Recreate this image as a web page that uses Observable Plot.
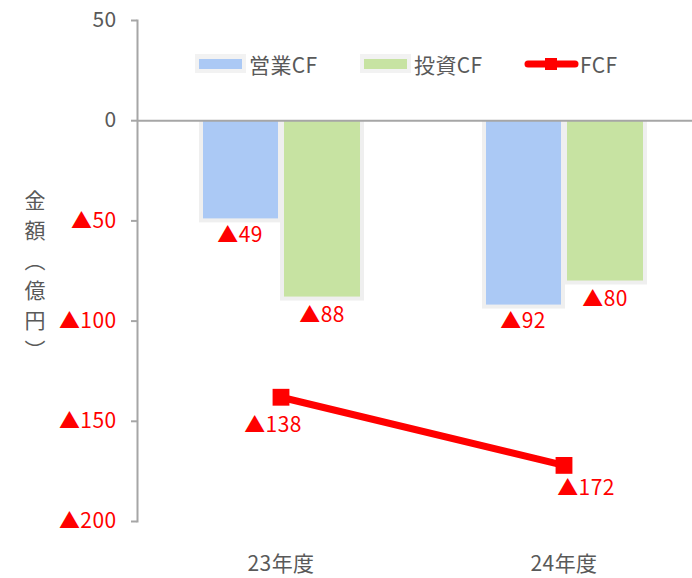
<!DOCTYPE html>
<html><head><meta charset="utf-8">
<script src="https://cdn.jsdelivr.net/npm/d3@7"></script>
<script src="https://cdn.jsdelivr.net/npm/@observablehq/plot@0.6"></script>
<style>body{margin:0;background:#fff} #chart{position:relative;width:692px;height:578px}</style>
</head><body><div id="chart"></div>
<script>
const years = ["23年度", "24年度"];
const seriesNames = ["営業CF", "投資CF", "FCF"];
const opCF = [-49, -92];
const invCF = [-88, -80];
const fcf = [-138, -172];
const yTicks = [50, 0, -50, -100, -150, -200];
const yTitle = "金額（億円）";

const blue = "#abc9f5", green = "#c7e3a2", red = "#ff0000";
const grey = "#595959", axisGrey = "#a6a6a6", shade = "#efefef";
const font = "'Noto Sans CJK JP', 'Noto Sans', sans-serif";
const fs = 21;
const fmt = v => v < 0 ? "▲" + Math.abs(v) : String(v);

const op = years.map((y, i) => ({year: y, value: opCF[i]}));
const inv = years.map((y, i) => ({year: y, value: invCF[i]}));
const line = years.map((y, i) => ({year: y, value: fcf[i]}));

const plot = Plot.plot({
  width: 692, height: 578,
  marginTop: 20, marginBottom: 57, marginLeft: 137, marginRight: 0,
  style: {fontFamily: font, fontSize: fs + "px", background: "#fff", color: grey, letterSpacing: "0.4px"},
  x: {domain: years, range: [138, 705], padding: 0, label: null},
  y: {domain: [-200, 50], label: null},
  marks: [
    Plot.barY(op, {x: "year", y: "value", fill: shade, insetLeft: 60, insetRight: 140, insetBottom: -4}),
    Plot.barY(inv, {x: "year", y: "value", fill: shade, insetLeft: 141, insetRight: 58, insetBottom: -4}),
    Plot.barY(op, {x: "year", y: "value", fill: blue, insetLeft: 64, insetRight: 144}),
    Plot.barY(inv, {x: "year", y: "value", fill: green, insetLeft: 145, insetRight: 62}),
    Plot.ruleY([0], {stroke: axisGrey, strokeWidth: 2}),
    Plot.frame({anchor: "left", stroke: axisGrey, strokeWidth: 2}),
    Plot.axisY({ticks: yTicks.filter(v => v >= 0), tickSize: 6, tickPadding: 15, stroke: axisGrey, strokeWidth: 2, fill: grey, fontSize: fs, tickFormat: fmt, label: null}),
    Plot.axisY({ticks: yTicks.filter(v => v < 0), tickSize: 6, tickPadding: 15, stroke: axisGrey, strokeWidth: 2, fill: red, fontSize: fs, tickFormat: fmt, label: null}),
    Plot.axisX({tickSize: 0, tickPadding: 35, fill: grey, fontSize: fs, label: null}),
    Plot.text(op, {x: "year", y: "value", text: d => fmt(d.value), dx: -41, dy: 16, fill: red, fontSize: fs}),
    Plot.text(inv, {x: "year", y: "value", text: d => fmt(d.value), dx: 41, dy: 18, fill: red, fontSize: fs}),
    Plot.line(line, {x: "year", y: "value", stroke: red, strokeWidth: 7}),
    Plot.dot(line, {x: "year", y: "value", symbol: "square", r: 9.5, fill: red}),
    Plot.text(line.filter((d, i) => i === 0), {x: "year", y: "value", text: d => fmt(d.value), dx: -8, dy: 28, fill: red, fontSize: fs}),
    Plot.text(line.filter((d, i) => i === 1), {x: "year", y: "value", text: d => fmt(d.value), dx: 22, dy: 23, fill: red, fontSize: fs})
  ]
});
document.getElementById("chart").appendChild(plot);

const svg = d3.select(plot);
// y-axis title, vertical
svg.append("text")
  .attr("x", 35).attr("y", 280)
  .attr("text-anchor", "middle")
  .style("writing-mode", "vertical-rl")
  .style("letter-spacing", "9px")
  .attr("fill", grey).attr("font-size", 21).attr("font-family", font)
  .text(yTitle);

// legend
const lg = svg.append("g").attr("font-family", font).attr("font-size", fs).attr("fill", grey)
  .attr("text-anchor", "start");
const swatchX = [195, 360];
[blue, green].forEach((c, i) => {
  lg.append("rect").attr("x", swatchX[i]).attr("y", 54).attr("width", 51).attr("height", 19).attr("fill", "#f2f2f2");
  lg.append("rect").attr("x", swatchX[i] + 4).attr("y", 59).attr("width", 43).attr("height", 10).attr("fill", c);
  lg.append("text").attr("x", swatchX[i] + 54).attr("y", 64).attr("dominant-baseline", "central").text(seriesNames[i]);
});
lg.append("line").attr("x1", 528).attr("x2", 575).attr("y1", 64).attr("y2", 64)
  .attr("stroke", red).attr("stroke-width", 7).attr("stroke-linecap", "round");
lg.append("rect").attr("x", 545).attr("y", 58).attr("width", 12).attr("height", 12).attr("fill", red);
lg.append("text").attr("x", 580).attr("y", 64).attr("dominant-baseline", "central").text(seriesNames[2]);
</script>
</body></html>
